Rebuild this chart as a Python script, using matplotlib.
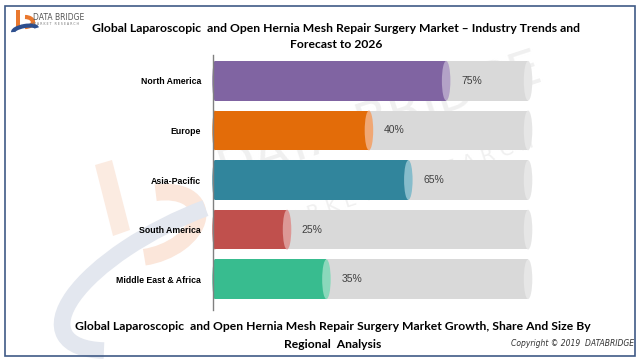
import matplotlib.pyplot as plt
from matplotlib.patches import Ellipse, Rectangle, Polygon
import matplotlib.patches as mpatches

# data
regions = ["North America", "Europe", "Asia-Pacific", "South America", "Middle East & Africa"]
bar_len = [74, 49.5, 62, 23.5, 36]          # drawn bar length (% of track)
labels = ["75%", "40%", "65%", "25%", "35%"]  # printed labels
colors = ["#8064A2", "#E36C09", "#31859C", "#C0504D", "#38BC8F"]
caps = ["#B3A2C7", "#F0A774", "#86BCCB", "#DC9896", "#8AD8BB"]
track = 100

title = ["Global Laparoscopic  and Open Hernia Mesh Repair Surgery Market \u2013 Industry Trends and",
         "Forecast to 2026"]
subtitle = ["Global Laparoscopic  and Open Hernia Mesh Repair Surgery Market Growth, Share And Size By",
            "Regional  Analysis"]

fig = plt.figure(figsize=(6.4, 3.6), dpi=100)
fig.patch.set_facecolor("white")

# watermark
wm = fig.add_axes([0, 0, 1, 1], zorder=0)
wm.set_xlim(0, 640)
wm.set_ylim(360, 0)
wm.axis("off")
wm.add_patch(Polygon([(95, 165), (112, 160), (130, 230), (113, 236)], closed=True,
                     color="#FBE6DA", alpha=0.8, lw=0))
wm.add_patch(mpatches.Arc((150, 225), 100, 60, angle=-20, theta1=-60, theta2=120,
                          color="#FBE6DA", lw=12))
wm.add_patch(mpatches.Arc((200, 270), 300, 110, angle=-25, theta1=165, theta2=300,
                          color="#E3E7EF", lw=12))
wm.text(380, 120, "DATA BRIDGE", fontsize=36, color="#F0F0F0", rotation=18,
        ha="center", va="center", family="DejaVu Sans")
wm.text(400, 185, "M A R K E T   R E S E A R C H", fontsize=14, color="#F0F0F0",
        rotation=18, ha="center", va="center")

ax = fig.add_axes([213 / 640, 50 / 360, 333 / 640, 255 / 360], zorder=2)
ax.patch.set_alpha(0)
ax.set_xlim(0, 105.7)
ax.set_ylim(4.62, -0.52)
h = 0.8
ew = 2.7

for i, (v, c, cc, lab) in enumerate(zip(bar_len, colors, caps, labels)):
    ax.add_patch(Rectangle((0, i - h / 2), track, h, color="#D9D9D9", lw=0))
    ax.add_patch(Ellipse((track, i), ew, h, color="#E6E6E6", lw=0))
    ax.add_patch(Ellipse((0.6, i), 1.6, h, color=c, lw=0, clip_on=False))
    ax.add_patch(Rectangle((0.6, i - h / 2), v - 0.6, h, color=c, lw=0))
    ax.add_patch(Ellipse((v, i), ew, h, color=cc, lw=0))
    ax.text(v + 8, i, lab, ha="center", va="center", fontsize=7.5,
            color="#404040", family="Liberation Sans")

ax.set_yticks(range(len(regions)))
ax.set_yticklabels(regions, fontsize=6.3, fontweight="bold",
                   family=["Liberation Sans Narrow", "Liberation Sans"])
ax.tick_params(axis="y", length=0, pad=8.5)
ax.set_xticks([])
for s in ["top", "right", "bottom"]:
    ax.spines[s].set_visible(False)
ax.spines["left"].set_color("#808080")
ax.spines["left"].set_linewidth(1)

# titles
fig.text(336 / 640, 1 - 28 / 360, title[0], ha="center", va="center", fontsize=8.7,
         fontweight="bold", family="Lato")
fig.text(336 / 640, 1 - 45 / 360, title[1], ha="center", va="center", fontsize=8.7,
         fontweight="bold", family="Lato")
fig.text(333 / 640, 1 - 327 / 360, subtitle[0], ha="center", va="center", fontsize=8.7,
         fontweight="bold", family="Lato")
fig.text(333 / 640, 1 - 344 / 360, subtitle[1], ha="center", va="center", fontsize=8.7,
         fontweight="bold", family="Lato")
fig.text(634 / 640, 1 - 344 / 360, "Copyright \u00a9 2019  DATABRIDGE", ha="right",
         va="center", fontsize=5.5, style="italic", color="#333333")

# logo
wm.add_patch(Rectangle((16, 10), 4, 18, color="#E9782E", lw=0))
wm.add_patch(mpatches.Arc((25, 22), 16, 10, theta1=-90, theta2=90, color="#E9782E", lw=3))
wm.add_patch(mpatches.Arc((25, 30), 24, 8, angle=-10, theta1=180, theta2=360,
                          color="#2D4F8E", lw=3))
wm.text(33, 17, "DATA BRIDGE", fontsize=5.5, color="#555555", va="center",
        family="Liberation Sans Narrow")
wm.text(33, 24, "M A R K E T   R E S E A R C H", fontsize=2.3, color="#777777", va="center")

# border
wm.add_patch(Rectangle((5, 6), 630, 350, fill=False, ec="#3F5A86", lw=1.2))

fig.savefig("out.png", dpi=100)
